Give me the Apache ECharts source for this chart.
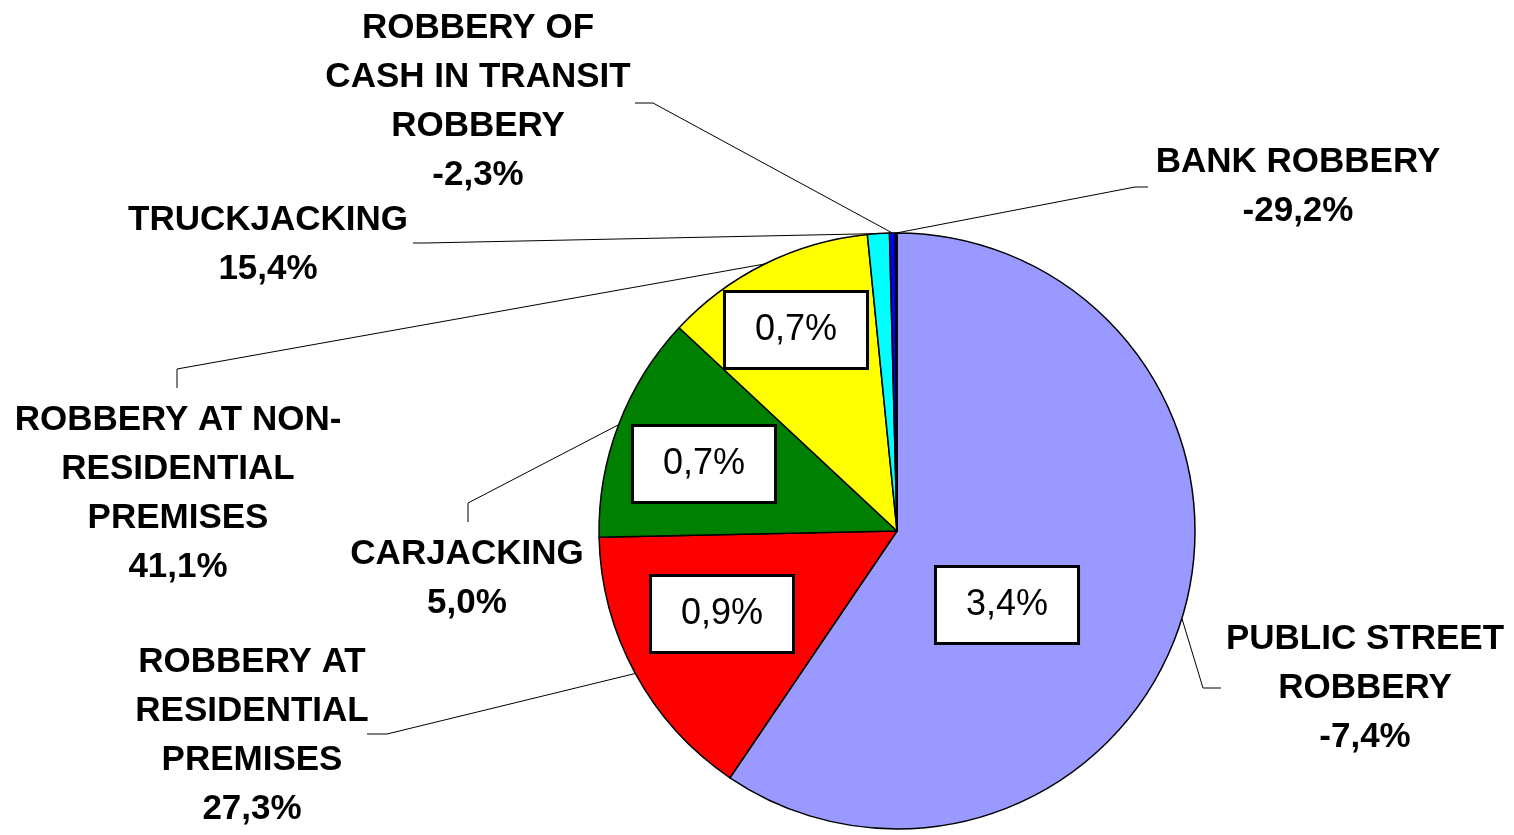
<!DOCTYPE html>
<html>
<head>
<meta charset="utf-8">
<script src="https://cdn.jsdelivr.net/npm/echarts@6/dist/echarts.min.js"></script>
<style>
  html, body { margin: 0; padding: 0; background: #fff; }
  #chart { width: 1514px; height: 835px; }
</style>
</head>
<body>
<div id="chart"></div>
<script>
// ---- data ----
const categories = [
  'PUBLIC STREET\nROBBERY',
  'ROBBERY AT\nRESIDENTIAL\nPREMISES',
  'CARJACKING',
  'ROBBERY AT NON-\nRESIDENTIAL\nPREMISES',
  'TRUCKJACKING',
  'ROBBERY OF\nCASH IN TRANSIT\nROBBERY',
  'BANK ROBBERY'
];
const values = [72194, 18438, 14915, 13920, 1437, 386, 102];
const changeLabels = ['-7,4%', '27,3%', '5,0%', '41,1%', '15,4%', '-2,3%', '-29,2%'];
const boxLabels = ['3,4%', '0,9%', '0,7%', '0,7%', '', '', ''];
const colors = ['#9999FF', '#FF0000', '#008000', '#FFFF00', '#00FFFF', '#0000FF', '#000080'];

// ---- layout (label placement only) ----
const outerLabelLayout = [
  { x: 1365, y: 688, bend: [[1203, 688], [1221, 688]] },
  { x: 252,  y: 736, bend: [[387, 734], [367, 734]] },
  { x: 467,  y: 579, bend: [[468, 503], [468, 522]] },
  { x: 178,  y: 494, bend: [[177, 369], [177, 388]] },
  { x: 268,  y: 245, bend: [[425, 243], [413, 243]] },
  { x: 478,  y: 102, bend: [[653, 103], [635, 103]] },
  { x: 1298, y: 187, bend: [[1135, 187], [1148, 187]] }
];
const boxLabelLayout = [
  { x: 1007, y: 605 },
  { x: 722,  y: 614 },
  { x: 704,  y: 464 },
  { x: 796,  y: 330 }
];

const CENTER = [897, 531];
const RADIUS = 298;
const FONT = '"Liberation Sans", Arial, sans-serif';

const chart = echarts.init(document.getElementById('chart'), null, { renderer: 'canvas' });

const mainData = values.map((v, i) => ({
  name: categories[i],
  value: v,
  itemStyle: { color: colors[i] }
}));
const boxData = values.map((v, i) => ({
  name: categories[i],
  value: v,
  label: { show: boxLabels[i] !== '' }
}));

const option = {
  animation: false,
  backgroundColor: '#ffffff',
  series: [
    {
      type: 'pie',
      center: CENTER,
      radius: RADIUS,
      startAngle: 90,
      clockwise: true,
      avoidLabelOverlap: false,
      minShowLabelAngle: 0,
      emphasis: { disabled: true },
      itemStyle: { borderColor: '#000', borderWidth: 1.5 },
      label: {
        show: true,
        position: 'outside',
        formatter: (p) => p.name + '\n' + changeLabels[p.dataIndex],
        fontFamily: FONT,
        fontWeight: 'bold',
        fontSize: 35,
        lineHeight: 49,
        color: '#000',
        align: 'center'
      },
      labelLine: {
        show: true,
        length: 10,
        length2: 10,
        smooth: false,
        lineStyle: { color: '#000', width: 1 }
      },
      labelLayout: function (params) {
        const L = outerLabelLayout[params.dataIndex];
        let start;
        if (params.labelLinePoints && params.labelLinePoints[0]) {
          start = params.labelLinePoints[0];
        } else {
          start = [params.rect.x + params.rect.width / 2, params.rect.y + params.rect.height / 2];
        }
        return {
          x: L.x,
          y: L.y,
          align: 'center',
          verticalAlign: 'middle',
          labelLinePoints: [start, L.bend[0], L.bend[1]]
        };
      },
      data: mainData
    },
    {
      type: 'pie',
      center: CENTER,
      radius: RADIUS,
      startAngle: 90,
      clockwise: true,
      silent: true,
      z: 5,
      avoidLabelOverlap: false,
      emphasis: { disabled: true },
      itemStyle: { color: 'rgba(0,0,0,0)', borderWidth: 0 },
      label: {
        show: true,
        position: 'inside',
        formatter: (p) => boxLabels[p.dataIndex],
        fontFamily: FONT,
        fontWeight: 'normal',
        fontSize: 36,
        lineHeight: 38,
        color: '#000',
        backgroundColor: '#fff',
        borderColor: '#000',
        borderWidth: 3,
        padding: [18, 29, 18, 29]
      },
      labelLine: { show: false },
      labelLayout: function (params) {
        const L = boxLabelLayout[params.dataIndex];
        if (!L) return {};
        return { x: L.x, y: L.y, align: 'center', verticalAlign: 'middle' };
      },
      data: boxData
    }
  ]
};
chart.setOption(option);
</script>
</body>
</html>
